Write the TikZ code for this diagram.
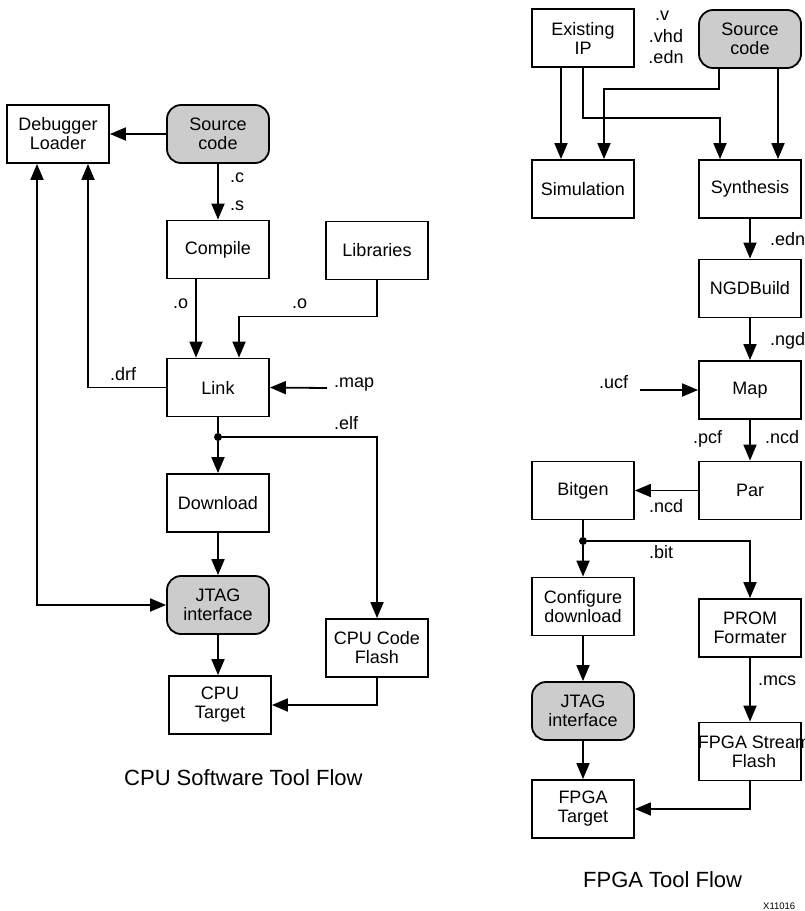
\documentclass[tikz,border=0pt]{standalone}
\usepackage{fontspec}
\setmainfont{Liberation Sans}
\usetikzlibrary{arrows.meta}
\begin{document}
\begin{tikzpicture}[x=1pt,y=-1pt,
  every node/.style={font=\fontsize{18}{19}\selectfont},
  box/.style={draw,line width=1.8pt,minimum width=102pt,minimum height=58pt,inner sep=0pt,align=center},
  gbox/.style={box,fill=black!20,rounded corners=14pt},
  conn/.style={line width=1.8pt},
  arr/.style={conn,-{Triangle[length=16pt,width=13pt]}},
  arrb/.style={conn,{Triangle[length=16pt,width=13pt]}-{Triangle[length=16pt,width=13pt]}},
  lbl/.style={anchor=base west,inner sep=0pt},
  dot/.style={circle,fill,inner sep=0pt,minimum size=8pt}]
\useasboundingbox (0,0) rectangle (804,911);

% ---------- CPU software tool flow ----------
\node[box]  (dbg)      at (58,134)    {Debugger\\Loader};
\node[gbox] (srcL)     at (218,134)   {Source\\code};
\node[box]  (compile)  at (218,249.5) {Compile};
\node[box]  (libs)     at (377,250.5) {Libraries};
\node[box]  (link)     at (218,387.5) {Link};
\node[box]  (download) at (218,503)   {Download};
\node[gbox] (jtagL)    at (218,605)   {JTAG\\interface};
\node[box]  (cputgt)   at (220,705)   {CPU\\Target};
\node[box]  (flash)    at (377,648)   {CPU Code\\Flash};
\node[dot]  (dotL)     at (218,437)   {};
\coordinate (mapin) at (327,388);

\draw[arr] (srcL.west) -- (dbg.east);
\draw[arr] (srcL.south) -- (compile.north);
\draw[arr] ([xshift=-22pt]compile.south) -- ([xshift=-22pt]link.north);
\draw[arr] (libs.south) -- ++(0,36) -| ([xshift=21pt]link.north);
\draw[arr] (link.west) -| ([xshift=30pt]dbg.south);
\draw[arr] (mapin) -- (link.east);
\draw[conn] (link.south) -- (dotL);
\draw[arr] (dotL) -- (download.north);
\draw[arr] (dotL) -| (flash.north);
\draw[arr] (download.south) -- (jtagL.north);
\draw[arrb] ([xshift=-21pt]dbg.south) |- (jtagL.west);
\draw[arr] (jtagL.south) -- (jtagL.south |- cputgt.north);
\draw[arr] (flash.south) |- (cputgt.east);

\node[lbl] (lc)   at (230,182) {.c};
\node[lbl] (ls)   at (230,210) {.s};
\node[lbl] (lo1)  at (173,308) {.o};
\node[lbl] (lo2)  at (292,308) {.o};
\node[lbl] (ldrf) at (110,380) {.drf};
\node[lbl] (lmap) at (334,387) {.map};
\node[lbl] (lelf) at (334,429) {.elf};

\node[lbl,font=\fontsize{22}{26}\selectfont] (t1) at (124,785) {CPU Software Tool Flow};

% ---------- FPGA tool flow ----------
\node[box]  (ip)      at (583,38)    {Existing\\IP};
\node[gbox] (srcR)    at (750,39)    {Source\\code};
\node[box]  (sim)     at (583,189)   {Simulation};
\node[box]  (syn)     at (750,189)   {Synthesis};
\node[box]  (ngd)     at (750,288.5) {NGDBuild};
\node[box]  (map)     at (750,390)   {Map};
\node[box]  (par)     at (750,490.5) {Par};
\node[box]  (bitgen)  at (583,490.5) {Bitgen};
\node[box]  (config)  at (583,606.5) {Configure\\download};
\node[box]  (prom)    at (750,628)   {PROM\\Formater};
\node[gbox] (jtagR)   at (583,711)   {JTAG\\interface};
\node[box]  (stream)  at (750,751.5) {};
\node[align=center,inner sep=0pt] (streamtxt) at ([xshift=4pt]stream.center) {FPGA Stream\\Flash};
\node[box]  (fpgatgt) at (583,809)   {FPGA\\Target};
\node[dot]  (dotR)    at (583,541)   {};
\coordinate (ucfin) at (640,390);

\draw[arr] ([xshift=-22pt]ip.south) -- ([xshift=-22pt]sim.north);
\draw[arr] (ip.south) -- ++(0,50) -| ([xshift=-30pt]syn.north);
\draw[arr] ([xshift=-31pt]srcR.south) -- ++(0,20) -| ([xshift=21pt]sim.north);
\draw[arr] ([xshift=28pt]srcR.south) -- ([xshift=28pt]syn.north);
\draw[arr] (syn.south) -- (ngd.north);
\draw[arr] (ngd.south) -- (map.north);
\draw[arr] (ucfin) -- (map.west);
\draw[arr] (map.south) -- (par.north);
\draw[arr] (par.west) -- (bitgen.east);
\draw[conn] (bitgen.south) -- (dotR);
\draw[arr] (dotR) -- (config.north);
\draw[arr] (dotR) -| (prom.north);
\draw[arr] (config.south) -- (jtagR.north);
\draw[arr] (prom.south) -- (stream.north);
\draw[arr] (jtagR.south) -- (fpgatgt.north);
\draw[arr] (stream.south) |- (fpgatgt.east);

\node[lbl,anchor=base] (lv)   at (662,20) {.v};
\node[lbl,anchor=base] (lvhd) at (666,42) {.vhd};
\node[lbl,anchor=base] (ledn) at (666,63) {.edn};
\node[lbl] (ledn2) at (770,245) {.edn};
\node[lbl] (lngd)  at (770,345) {.ngd};
\node[lbl] (lucf)  at (599,388) {.ucf};
\node[lbl] (lpcf)  at (693,443) {.pcf};
\node[lbl] (lncd1) at (765,443) {.ncd};
\node[lbl] (lncd2) at (649,512) {.ncd};
\node[lbl] (lbit)  at (649,558) {.bit};
\node[lbl] (lmcs)  at (758,685) {.mcs};

\node[lbl,font=\fontsize{22}{26}\selectfont] (t2) at (583,887) {FPGA Tool Flow};
\node[lbl,font=\fontsize{9.5}{11}\selectfont] (xid) at (763,909) {X11016};
\end{tikzpicture}
\end{document}
